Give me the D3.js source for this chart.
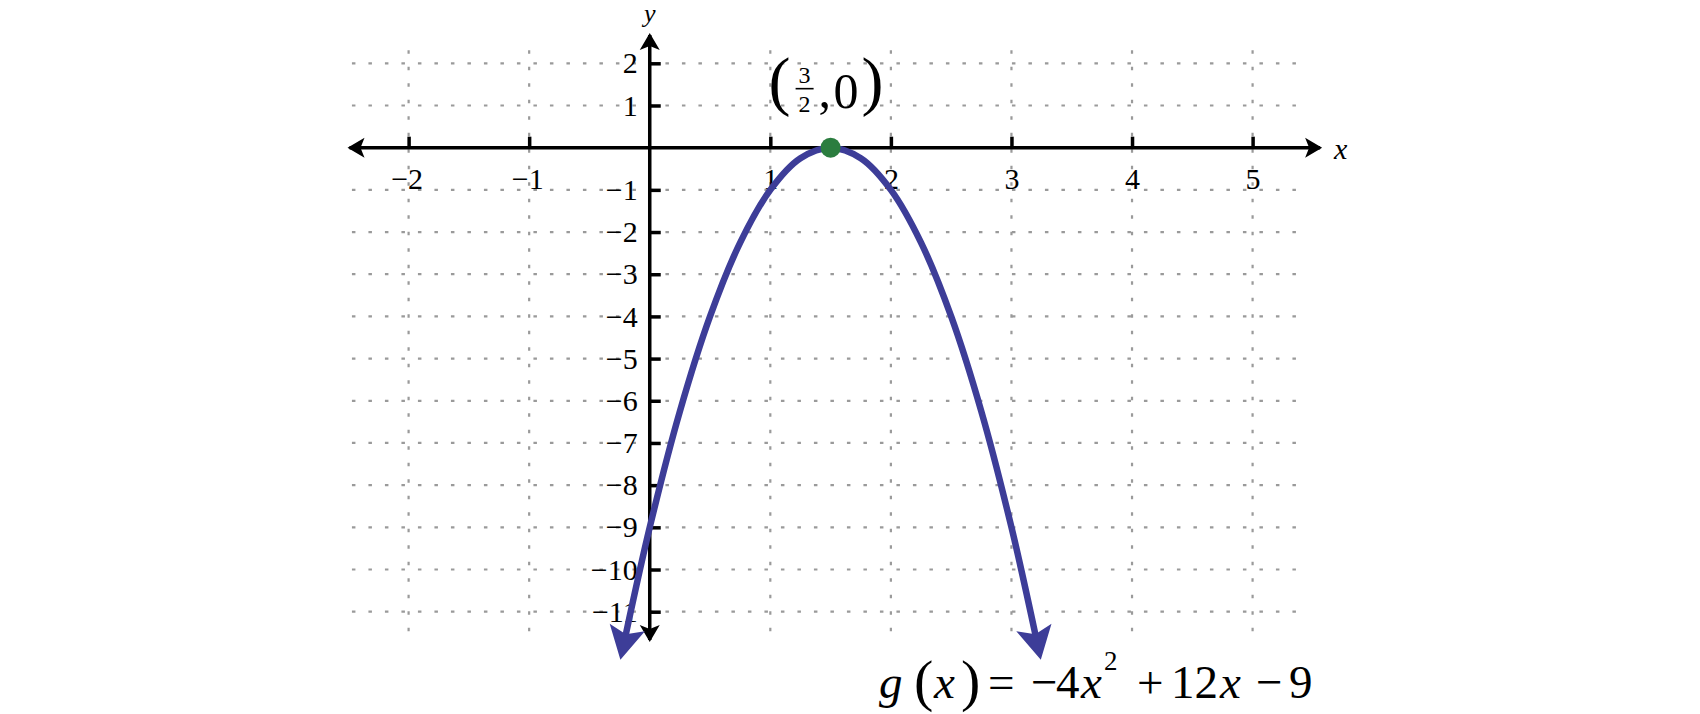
<!DOCTYPE html>
<html>
<head>
<meta charset="utf-8">
<script src="https://cdn.jsdelivr.net/npm/d3@7"></script>
<style>
  html, body { margin: 0; padding: 0; background: #ffffff; }
  svg { display: block; }
  .serif { font-family: "Liberation Serif", "Tinos", "Times New Roman", "DejaVu Serif", serif; }
</style>
</head>
<body>
<svg id="chart" width="1700" height="714"></svg>
<script>
// ---------- data ----------
const xTickValues = [-2, -1, 1, 2, 3, 4, 5];
const xTickLabels = ["\u22122", "\u22121", "1", "2", "3", "4", "5"];
const yTickValues = [2, 1, -1, -2, -3, -4, -5, -6, -7, -8, -9, -10, -11];
const yTickLabels = ["2", "1", "\u22121", "\u22122", "\u22123", "\u22124", "\u22125", "\u22126", "\u22127", "\u22128", "\u22129", "\u221210", "\u221211"];
const gridXExtent = [-2.47, 5.44];
const gridYExtent = [2.31, -11.6];
const xAxisExtent = [-2.49, 5.56];
const yAxisExtent = [2.67, -11.67];
// curve g(x) = -4x^2 + 12x - 9
const curveX = [-0.2, 0, 0.25, 0.5, 0.75, 1, 1.25, 1.5, 1.75, 2, 2.25, 2.5, 2.75, 3, 3.2];
const curveY = [-11.56, -9, -6.25, -4, -2.25, -1, -0.25, 0, -0.25, -1, -2.25, -4, -6.25, -9, -11.56];
const vertexPoint = [1.5, 0];

// ---------- scales ----------
const x = d3.scaleLinear().domain([-2, 5]).range([408.6, 1252.6]);
const y = d3.scaleLinear().domain([2, -11]).range([63.3, 611.7]);

const svg = d3.select("#chart");
const curveColor = "#3d3d98";

// ---------- markers ----------
const defs = svg.append("defs");
defs.append("marker")
  .attr("id", "axisArrow")
  .attr("markerUnits", "userSpaceOnUse")
  .attr("markerWidth", 30).attr("markerHeight", 30)
  .attr("refX", 15).attr("refY", 0)
  .attr("orient", "auto-start-reverse")
  .style("overflow", "visible")
  .append("path")
  .attr("d", "M0,-10 L17,0 L0,10 L4,0 Z")
  .attr("fill", "#000");
defs.append("marker")
  .attr("id", "curveArrow")
  .attr("markerUnits", "userSpaceOnUse")
  .attr("markerWidth", 40).attr("markerHeight", 40)
  .attr("refX", 8).attr("refY", 0)
  .attr("orient", "auto-start-reverse")
  .style("overflow", "visible")
  .append("path")
  .attr("d", "M0,-18 L33,0 L0,18 L7,0 Z")
  .attr("fill", curveColor);

// ---------- grid ----------
const grid = svg.append("g").attr("stroke", "#9a9a9a").attr("stroke-width", 2.2).attr("stroke-dasharray", "3.5,13");
grid.selectAll("line.h").data(yTickValues).join("line")
  .attr("class", "h")
  .attr("x1", x(gridXExtent[0])).attr("x2", x(gridXExtent[1]))
  .attr("y1", d => y(d)).attr("y2", d => y(d));
grid.selectAll("line.v").data(xTickValues).join("line")
  .attr("class", "v")
  .attr("x1", d => x(d)).attr("x2", d => x(d))
  .attr("y1", y(gridYExtent[0])).attr("y2", y(gridYExtent[1]));

// ---------- axes (ticks + labels) ----------
const xAxis = d3.axisBottom(x)
  .tickValues(xTickValues)
  .tickSize(-11)
  .tickPadding(20)
  .tickFormat((d, i) => xTickLabels[i]);
const gx = svg.append("g").attr("transform", `translate(0,${y(0)})`).call(xAxis)
  .attr("font-family", null).attr("font-size", null);
gx.select(".domain").remove();
gx.selectAll(".tick line").attr("stroke", "#000").attr("stroke-width", 3.5);
gx.selectAll(".tick text")
  .attr("class", "serif")
  .attr("fill", "#000")
  .attr("font-size", 30)
  .attr("dx", d => d < 0 ? -2 : 0);

const yAxis = d3.axisLeft(y)
  .tickValues(yTickValues)
  .tickSize(-11)
  .tickPadding(12)
  .tickFormat((d, i) => yTickLabels[i]);
const gy = svg.append("g").attr("transform", `translate(${x(0)},0)`).call(yAxis)
  .attr("font-family", null).attr("font-size", null);
gy.select(".domain").remove();
gy.selectAll(".tick line").attr("stroke", "#000").attr("stroke-width", 3.5);
gy.selectAll(".tick text")
  .attr("class", "serif")
  .attr("fill", "#000")
  .attr("font-size", 30);

// axis lines with arrows
svg.append("line")
  .attr("x1", x(xAxisExtent[0])).attr("x2", x(xAxisExtent[1]))
  .attr("y1", y(0)).attr("y2", y(0))
  .attr("stroke", "#000").attr("stroke-width", 3.5)
  .attr("marker-start", "url(#axisArrow)")
  .attr("marker-end", "url(#axisArrow)");
svg.append("line")
  .attr("x1", x(0)).attr("x2", x(0))
  .attr("y1", y(yAxisExtent[0])).attr("y2", y(yAxisExtent[1]))
  .attr("stroke", "#000").attr("stroke-width", 3.5)
  .attr("marker-start", "url(#axisArrow)")
  .attr("marker-end", "url(#axisArrow)");

// axis names
svg.append("text")
  .attr("class", "serif")
  .attr("x", x(0)).attr("y", 22)
  .attr("text-anchor", "middle")
  .attr("font-style", "italic").attr("font-size", 26)
  .text("y");
svg.append("text")
  .attr("class", "serif")
  .attr("x", x(xAxisExtent[1]) + 14).attr("y", y(0) + 11)
  .attr("font-style", "italic").attr("font-size", 30)
  .text("x");

// ---------- curve ----------
const pts = curveX.map((v, i) => [v, curveY[i]]);
const line = d3.line().x(d => x(d[0])).y(d => y(d[1])).curve(d3.curveCatmullRom);
svg.append("path")
  .attr("d", line(pts))
  .attr("fill", "none")
  .attr("stroke", curveColor)
  .attr("stroke-width", 6.5)
  .attr("marker-start", "url(#curveArrow)")
  .attr("marker-end", "url(#curveArrow)");

// ---------- vertex ----------
svg.append("circle")
  .attr("cx", x(vertexPoint[0])).attr("cy", y(vertexPoint[1]))
  .attr("r", 10)
  .attr("fill", "#2b7d3f");

const vx = x(vertexPoint[0]), vy = y(vertexPoint[1]);
const lab = svg.append("g").attr("class", "serif").attr("fill", "#000");
lab.append("text").attr("x", vx - 62).attr("y", vy - 45)
  .attr("font-size", 66).text("(");
lab.append("text").attr("x", vx - 26).attr("y", vy - 65).attr("text-anchor", "middle")
  .attr("font-size", 24).text("3");
lab.append("line").attr("x1", vx - 35).attr("x2", vx - 17).attr("y1", vy - 59).attr("y2", vy - 59)
  .attr("stroke", "#000").attr("stroke-width", 1.6);
lab.append("text").attr("x", vx - 26).attr("y", vy - 36).attr("text-anchor", "middle")
  .attr("font-size", 24).text("2");
lab.append("text").attr("x", vx - 12).attr("y", vy - 41)
  .attr("font-size", 50).text(",");
lab.append("text").attr("x", vx + 3).attr("y", vy - 40)
  .attr("font-size", 50).text("0");
lab.append("text").attr("x", vx + 31).attr("y", vy - 45)
  .attr("font-size", 66).text(")");

// ---------- equation ----------
const eq = svg.append("text").attr("class", "serif").attr("y", 698)
  .attr("font-size", 47).attr("fill", "#000");
const parts = [
  { t: "g", x: 879, it: true },
  { t: "(", x: 914, fs: 58, dy: 2 },
  { t: "x", x: 934, it: true, dy: -2 },
  { t: ")", x: 961, fs: 58, dy: 2 },
  { t: "=", x: 988, dy: -2 },
  { t: "\u2212", x: 1031 },
  { t: "4", x: 1056 },
  { t: "x", x: 1081, it: true },
  { t: "2", x: 1104, fs: 27, dy: -28 },
  { t: "+", x: 1137, dy: 28 },
  { t: "12", x: 1171 },
  { t: "x", x: 1220, it: true },
  { t: "\u2212", x: 1256 },
  { t: "9", x: 1289 }
];
parts.forEach(p => {
  const ts = eq.append("tspan").attr("x", p.x).text(p.t);
  if (p.it) ts.attr("font-style", "italic");
  if (p.fs) ts.attr("font-size", p.fs);
  if (p.dy) ts.attr("dy", p.dy);
});
</script>
</body>
</html>
